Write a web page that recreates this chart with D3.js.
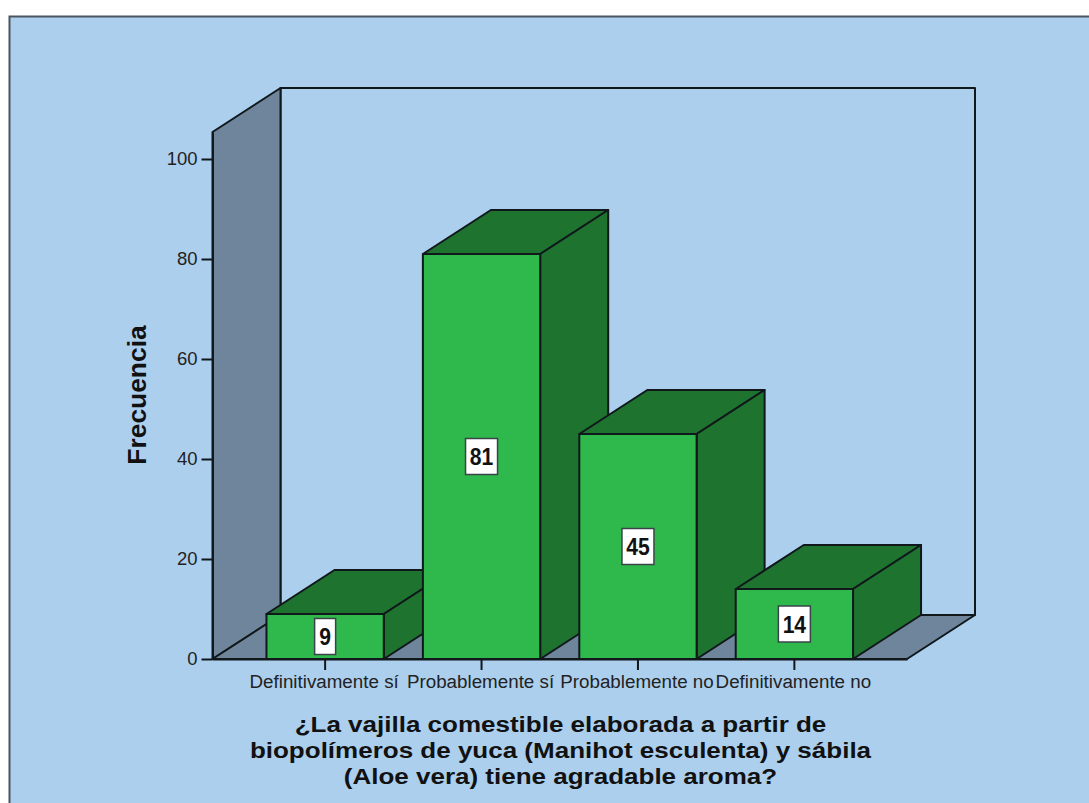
<!DOCTYPE html>
<html lang="es">
<head>
<meta charset="utf-8">
<title>Frecuencia</title>
<script src="https://cdn.jsdelivr.net/npm/d3@7"></script>
<style>
  html, body { margin: 0; padding: 0; background: #fff; }
  svg { display: block; }
  text { font-family: "Liberation Sans", Arial, sans-serif; fill: #111; }
</style>
</head>
<body>
<svg width="1089" height="803"></svg>
<script>
// Chart data
const categories = ['Definitivamente sí', 'Probablemente sí', 'Probablemente no', 'Definitivamente no'];
const frequencies = [9, 81, 45, 14];
const yTicks = [0, 20, 40, 60, 80, 100];
const yMax = 105.4;
const titleLines = [
  '¿La vajilla comestible elaborada a partir de',
  'biopolímeros de yuca (Manihot esculenta) y sábila',
  '(Aloe vera) tiene agradable aroma?',
];
const titleBaselines = [731.5, 757.5, 784];

// Plot geometry and 3D offset
const width = 1089;
const height = 803;
const left = 212.5;
const right = 907;
const bottom = 659;
const top3d = 132;
const depthX = 68;
const depthY = -44;

const colors = {
  background: '#accfee',
  frame: '#4a5560',
  wall: '#6f859b',
  front: '#2fb84b',
  dark: '#1e732f',
  line: '#10181c',
};

const svg = d3.select('svg');

const xScale = d3.scaleBand()
  .domain(categories)
  .range([left, right])
  .paddingInner(0.25)
  .paddingOuter(0.345);

const yScale = d3.scaleLinear()
  .domain([0, yMax])
  .range([bottom, top3d]);

const polygon = (g, points, fill) => g.append('polygon')
  .attr('points', points.map((p) => p.join(',')).join(' '))
  .attr('fill', fill)
  .attr('stroke', colors.line)
  .attr('stroke-width', 2)
  .attr('stroke-linejoin', 'round');

// Background panel, open on the right and bottom edges
svg.append('rect')
  .attr('x', 9)
  .attr('y', 16)
  .attr('width', width - 9)
  .attr('height', height - 16)
  .attr('fill', colors.background);

svg.append('path')
  .attr('d', `M9.5,${height}V16.5H${width}`)
  .attr('fill', 'none')
  .attr('stroke', colors.frame)
  .attr('stroke-width', 2);

// Back wall, side wall and floor
const walls = svg.append('g').attr('id', 'walls');

polygon(walls, [
  [left + depthX, top3d + depthY],
  [right + depthX, top3d + depthY],
  [right + depthX, bottom + depthY],
  [left + depthX, bottom + depthY],
], 'none');

polygon(walls, [
  [left, top3d],
  [left + depthX, top3d + depthY],
  [left + depthX, bottom + depthY],
  [left, bottom],
], colors.wall);

polygon(walls, [
  [left, bottom],
  [right, bottom],
  [right + depthX, bottom + depthY],
  [left + depthX, bottom + depthY],
], colors.wall);

// Bars, left to right so each front covers the previous side face
const bars = svg.append('g').attr('id', 'bars');

categories.forEach((category, i) => {
  const x0 = xScale(category);
  const x1 = x0 + xScale.bandwidth();
  const y0 = yScale(frequencies[i]);
  const bar = bars.append('g');

  polygon(bar, [
    [x0, y0],
    [x0 + depthX, y0 + depthY],
    [x1 + depthX, y0 + depthY],
    [x1, y0],
  ], colors.dark);

  polygon(bar, [
    [x1, y0],
    [x1 + depthX, y0 + depthY],
    [x1 + depthX, bottom + depthY],
    [x1, bottom],
  ], colors.dark);

  polygon(bar, [
    [x0, y0],
    [x1, y0],
    [x1, bottom],
    [x0, bottom],
  ], colors.front);
});

// Axes
const yAxis = d3.axisLeft(yScale).tickValues(yTicks).tickSize(11).tickSizeOuter(0);
const xAxis = d3.axisBottom(xScale).tickSize(11).tickSizeOuter(0);

const yAxisG = svg.append('g')
  .attr('id', 'y-axis')
  .attr('transform', `translate(${left}, 0)`)
  .call(yAxis);

const xAxisG = svg.append('g')
  .attr('id', 'x-axis')
  .attr('transform', `translate(0, ${bottom})`)
  .call(xAxis);

yAxisG.select('.domain').attr('stroke', colors.line).attr('stroke-width', 2);
xAxisG.select('.domain').attr('stroke', colors.line).attr('stroke-width', 2);
svg.selectAll('.tick line').attr('stroke', colors.line).attr('stroke-width', 2);

yAxisG.selectAll('.tick text')
  .attr('x', -15)
  .style('font-size', '18.5px')
  .style('fill', '#222');

xAxisG.selectAll('.tick text')
  .attr('x', -1)
  .attr('y', 16)
  .style('font-size', '18.8px')
  .style('fill', '#222');

// Value labels on the front faces
const valueLabels = svg.append('g').attr('id', 'value-labels');

categories.forEach((category, i) => {
  const cx = xScale(category) + xScale.bandwidth() / 2;
  const cy = (yScale(frequencies[i]) + bottom) / 2;
  const boxWidth = String(frequencies[i]).length > 1 ? 32 : 21;

  valueLabels.append('rect')
    .attr('x', cx - boxWidth / 2)
    .attr('y', cy - 18)
    .attr('width', boxWidth)
    .attr('height', 36)
    .attr('fill', '#fff')
    .attr('stroke', '#3a4448')
    .attr('stroke-width', 1.5);

  valueLabels.append('text')
    .attr('x', cx)
    .attr('y', cy)
    .attr('dy', '0.36em')
    .attr('text-anchor', 'middle')
    .attr('font-weight', 'bold')
    .style('font-size', '24px')
    .text(frequencies[i])
    .attr('textLength', function setLength() {
      return this.getComputedTextLength() * 0.88;
    })
    .attr('lengthAdjust', 'spacingAndGlyphs');
});

// Axis titles
svg.append('text')
  .attr('transform', 'translate(146, 395) rotate(-90)')
  .attr('text-anchor', 'middle')
  .attr('font-weight', 'bold')
  .style('font-size', '26.4px')
  .text('Frecuencia');

// The category title is set slightly wide
svg.append('g')
  .attr('id', 'x-title')
  .selectAll('text')
  .data(titleLines)
  .enter()
  .append('text')
  .attr('x', 560.5)
  .attr('y', (d, i) => titleBaselines[i])
  .attr('text-anchor', 'middle')
  .attr('font-weight', 'bold')
  .style('font-size', '22.8px')
  .text((d) => d)
  .attr('textLength', function setLength() {
    return this.getComputedTextLength() * (26 / 22.8);
  })
  .attr('lengthAdjust', 'spacingAndGlyphs');
</script>
</body>
</html>
